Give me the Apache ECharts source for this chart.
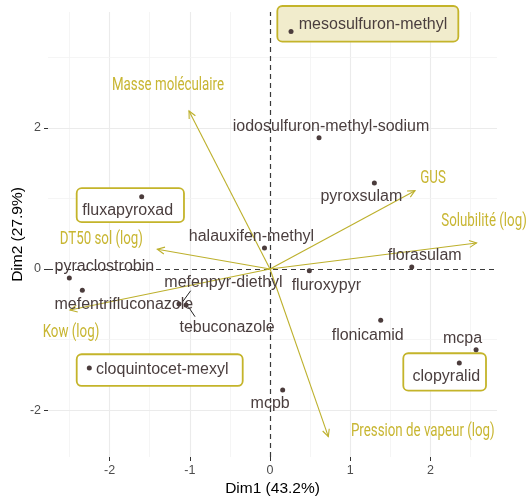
<!DOCTYPE html>
<html><head><meta charset="utf-8">
<script src="https://cdn.jsdelivr.net/npm/echarts@6/dist/echarts.min.js"></script>
<style>html,body{margin:0;padding:0;background:#fff}#c{width:529px;height:499px}</style>
</head><body><div id="c"></div>
<script>
// ---- data (PCA coordinates) ----
const compounds = ['mesosulfuron-methyl','iodosulfuron-methyl-sodium','pyroxsulam','halauxifen-methyl','fluxapyroxad','florasulam','fluroxypyr','flonicamid','mcpa','clopyralid','mcpb','cloquintocet-mexyl','pyraclostrobin','mefentrifluconazole','mefenpyr-diethyl','tebuconazole'];
const dim1 = [0.262, 0.611, 1.301, -0.069, -1.600, 1.767, 0.490, 1.380, 2.569, 2.360, 0.158, -2.253, -2.502, -2.340, -1.135, -1.047];
const dim2 = [3.364, 1.860, 1.218, 0.297, 1.024, 0.028, -0.024, -0.727, -1.143, -1.331, -1.714, -1.402, -0.127, -0.302, -0.496, -0.510];
const variables = ['Masse moléculaire','GUS','Solubilité (log)','DT50 sol (log)','Kow (log)','Pression de vapeur (log)'];
const varDim1 = [-1.010, 1.808, 2.575, -1.405, -2.494, 0.727];
const varDim2 = [2.238, 1.109, 0.368, 0.279, -0.581, -2.375];
const xTickValues = [-2, -1, 0, 1, 2];
const yTickValues = [-2, 0, 2];
const xGridValues = [-2.5, -2, -1.5, -1, -0.5, 0.5, 1, 1.5, 2, 2.5];
const yGridValues = [-2, -1, 1, 2, 3];
const highlighted = ['mesosulfuron-methyl','fluxapyroxad','cloquintocet-mexyl','clopyralid'];

// ---- layout (pixel offsets, styling) ----
const labelOffsets = {
  'mesosulfuron-methyl':[82,-7], 'iodosulfuron-methyl-sodium':[12,-11], 'pyroxsulam':[-13,14],
  'halauxifen-methyl':[-13,-11], 'fluxapyroxad':[-14,14], 'florasulam':[13,-11.5],
  'fluroxypyr':[17,14.5], 'flonicamid':[-13,15], 'mcpa':[-13.5,-11], 'clopyralid':[-13,14],
  'mcpb':[-12.5,13.5], 'cloquintocet-mexyl':[73,2], 'pyraclostrobin':[35,-11.5],
  'mefentrifluconazole':[41.5,14], 'mefenpyr-diethyl':[44.5,-21.7], 'tebuconazole':[41,22.3]
};
const varLabelOffsets = {
  'Masse moléculaire':[-21,-25], 'GUS':[18,-12.5], 'Solubilité (log)':[7.5,-22],
  'DT50 sol (log)':[-56,-10], 'Kow (log)':[1,22], 'Pression de vapeur (log)':[94.5,-5]
};
const boxLayout = { // [dx, dy, w, h] relative to the point
  'mesosulfuron-methyl':[-13.7,-25.5,181,35.7],
  'fluxapyroxad':[-65,-8.5,107.3,34],
  'cloquintocet-mexyl':[-12.6,-13.7,166,31.7],
  'clopyralid':[-56,-9.7,82.7,37.4]
};
const boxFill = {'mesosulfuron-methyl':'#F1ECCC'};
const connectors = {
  'mefenpyr-diethyl':[3.7,-2.3,11.7,-13.3],
  'tebuconazole':[2.3,1.7,9,11.7]
};
const GOLD_TEXT = '#C8B632';
const GOLD_LINE = '#BDB02C';
const BOX_LINE = '#C4B42A';
const PT = '#4B3C3C';
const FONT = '"Liberation Sans", Arial, sans-serif';
const NARROW = 'Roboto, "Liberation Sans", sans-serif';

const chart = echarts.init(document.getElementById('c'), null, {renderer:'canvas'});

const pointData = compounds.map((n,i)=>[dim1[i], dim2[i], n]);
const boxData = compounds.map((n,i)=>[dim1[i], dim2[i], n]).filter(d=>highlighted.includes(d[2]));
const varData = variables.map((n,i)=>[varDim1[i], varDim2[i], n]);

const gridLines = [];
xGridValues.forEach(v=>gridLines.push({xAxis:v, lineStyle:{color: Number.isInteger(v)?'#EBEBEB':'#F2F2F2', width: Number.isInteger(v)?1.1:0.8, type:'solid'}}));
yGridValues.forEach(v=>gridLines.push({yAxis:v, lineStyle:{color: (v%2===0)?'#EBEBEB':'#F2F2F2', width:(v%2===0)?1.1:0.8, type:'solid'}}));
const zeroLines = [{xAxis:0},{yAxis:0}];

const option = {
  animation:false,
  backgroundColor:'#fff',
  grid:{left:48, right:32, top:12, bottom:42, containLabel:false, outerBoundsMode:'none'},
  xAxis:{
    type:'value', min:-2.768, max:2.83,
    splitLine:{show:false}, axisLine:{show:true, onZero:false, lineStyle:{color:'rgba(0,0,0,0)'}},
    axisTick:{show:true, customValues:xTickValues, length:4, lineStyle:{color:'#333', width:1}},
    axisLabel:{customValues:xTickValues, color:'#4D4D4D', fontSize:12.5, fontFamily:FONT, margin:7},
    name:'Dim1 (43.2%)', nameLocation:'middle', nameGap:24, nameMoveOverlap:false,
    nameTextStyle:{color:'#000', fontSize:15.5, fontFamily:FONT}
  },
  yAxis:{
    type:'value', min:-2.663, max:3.64,
    splitLine:{show:false}, axisLine:{show:true, onZero:false, lineStyle:{color:'rgba(0,0,0,0)'}},
    axisTick:{show:true, customValues:yTickValues, length:4, lineStyle:{color:'#333', width:1}},
    axisLabel:{customValues:yTickValues, color:'#4D4D4D', fontSize:12.5, fontFamily:FONT, margin:7},
    name:'Dim2 (27.9%)', nameLocation:'middle', nameGap:22, nameRotate:90, nameMoveOverlap:false,
    nameTextStyle:{color:'#000', fontSize:15.5, fontFamily:FONT}
  },
  series:[
    { type:'scatter', data:[], z:1, silent:true,
      markLine:{silent:true, symbol:'none', label:{show:false}, z:1, animation:false, data:gridLines} },
    { type:'scatter', data:[], z:1, silent:true,
      markLine:{silent:true, symbol:'none', label:{show:false}, z:2, animation:false,
        lineStyle:{color:'#3a3a3a', type:[5,4], width:1.2}, data:zeroLines} },
    { type:'custom', z:3, silent:true, data:boxData,
      renderItem(params, api){
        const name = boxData[params.dataIndex][2];
        const p = api.coord([api.value(0), api.value(1)]);
        const b = boxLayout[name];
        return {type:'rect', shape:{x:p[0]+b[0], y:p[1]+b[1], width:b[2], height:b[3], r:5},
          style:{fill: boxFill[name]||'#fff', stroke:BOX_LINE, lineWidth:1.8}};
      } },
    { type:'custom', z:4, silent:true, data:varData,
      renderItem(params, api){
        const name = varData[params.dataIndex][2];
        const o = api.coord([0,0]);
        const p = api.coord([api.value(0), api.value(1)]);
        const ang = Math.atan2(p[1]-o[1], p[0]-o[0]);
        const L = 8, th = Math.PI/7;
        const h1 = [p[0]-L*Math.cos(ang-th), p[1]-L*Math.sin(ang-th)];
        const h2 = [p[0]-L*Math.cos(ang+th), p[1]-L*Math.sin(ang+th)];
        const off = varLabelOffsets[name];
        return {type:'group', children:[
          {type:'line', shape:{x1:o[0], y1:o[1], x2:p[0], y2:p[1]}, style:{stroke:GOLD_LINE, lineWidth:1.1}},
          {type:'polyline', shape:{points:[h1, p, h2]}, style:{stroke:GOLD_LINE, lineWidth:1.1, fill:null}},
          {type:'text', x:p[0]+off[0], y:p[1]+off[1], scaleX:0.74,
            style:{text:name, fill:GOLD_TEXT, font:'18px '+NARROW, align:'center', verticalAlign:'middle'}}
        ]};
      } },
    { type:'custom', z:5, silent:true, data:pointData,
      renderItem(params, api){
        const name = pointData[params.dataIndex][2];
        const c = connectors[name];
        if(!c) return null;
        const p = api.coord([api.value(0), api.value(1)]);
        return {type:'line', shape:{x1:p[0]+c[0], y1:p[1]+c[1], x2:p[0]+c[2], y2:p[1]+c[3]}, style:{stroke:'#222', lineWidth:1}};
      } },
    { type:'scatter', z:6, silent:true, data:pointData, symbol:'circle', symbolSize:5,
      itemStyle:{color:PT, opacity:1} },
    { type:'custom', z:7, silent:true, data:pointData,
      renderItem(params, api){
        const name = pointData[params.dataIndex][2];
        const p = api.coord([api.value(0), api.value(1)]);
        const off = labelOffsets[name];
        return {type:'text', x:p[0]+off[0], y:p[1]+off[1],
          style:{text:name, fill:'#4A3E3E', font:'16px '+FONT, align:'center', verticalAlign:'middle'}};
      } }
  ]
};
chart.setOption(option);
</script>
</body></html>
